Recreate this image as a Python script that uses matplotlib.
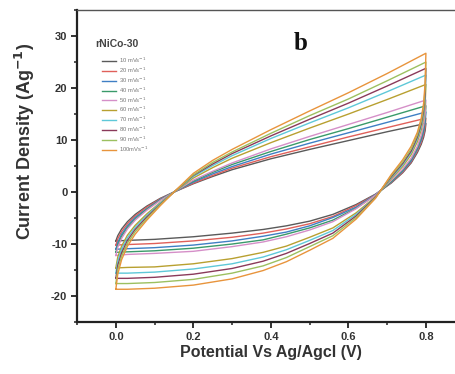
import matplotlib
matplotlib.use("Agg")
import matplotlib.pyplot as plt
from matplotlib.ticker import MultipleLocator

# Scan rates (mV/s) and their trace colours
scan_rates = [10, 20, 30, 40, 50, 60, 70, 80, 90, 100]
colors = ["#5a5a5a", "#e0605a", "#3f7fc4", "#3a9a6a", "#d58fc8",
          "#b8a030", "#5ec8d8", "#8a3a5a", "#9cc060", "#e8943c"]
labels = ["10 mVs$^{-1}$", "20 mVs$^{-1}$", "30 mVs$^{-1}$", "40 mVs$^{-1}$",
          "50 mVs$^{-1}$", "60 mVs$^{-1}$", "70 mVs$^{-1}$", "80 mVs$^{-1}$",
          "90 mVs$^{-1}$", "100mVs$^{-1}$"]

# Potential grid (V) for the anodic (forward) and cathodic (reverse) sweeps
e_fwd = [0.0, 0.005, 0.015, 0.03, 0.05, 0.08, 0.115, 0.15,
         0.2, 0.25, 0.3, 0.4, 0.5, 0.6, 0.7, 0.8]
e_rev = [0.8, 0.798, 0.794, 0.788, 0.778, 0.762, 0.74, 0.71, 0.67,
         0.62, 0.56, 0.5, 0.44, 0.38, 0.3, 0.2, 0.1, 0.03, 0.0]

# Current density (A/g), forward sweep
i_fwd_10 = [-9.4, -8.4, -7.1, -5.7, -4.3, -2.7, -1.2, 0.0, 1.6, 3.0, 4.3, 6.4, 8.2, 9.9, 11.6, 13.2]
i_fwd_20 = [-10.2, -9.0, -7.6, -6.1, -4.6, -2.9, -1.3, 0.0, 1.7, 3.2, 4.6, 6.8, 8.7, 10.6, 12.4, 14.2]
i_fwd_30 = [-11.0, -9.7, -8.1, -6.5, -4.9, -3.2, -1.4, 0.0, 1.9, 3.5, 4.9, 7.3, 9.4, 11.4, 13.4, 15.4]
i_fwd_40 = [-11.6, -10.2, -8.5, -6.8, -5.2, -3.3, -1.5, 0.0, 2.1, 3.8, 5.3, 7.8, 10.1, 12.2, 14.4, 16.6]
i_fwd_50 = [-12.2, -10.6, -8.9, -7.1, -5.4, -3.5, -1.6, 0.0, 2.3, 4.0, 5.6, 8.3, 10.7, 13.0, 15.3, 17.7]
i_fwd_60 = [-14.6, -12.5, -10.4, -8.3, -6.4, -4.2, -2.0, 0.0, 2.7, 4.7, 6.5, 9.5, 12.3, 15.0, 17.8, 20.7]
i_fwd_70 = [-15.6, -13.3, -11.0, -8.8, -6.8, -4.5, -2.1, 0.0, 3.0, 5.1, 7.0, 10.3, 13.3, 16.2, 19.3, 22.5]
i_fwd_80 = [-16.6, -14.1, -11.7, -9.3, -7.2, -4.8, -2.3, 0.0, 3.2, 5.4, 7.4, 10.8, 14.0, 17.1, 20.4, 23.8]
i_fwd_90 = [-17.6, -14.9, -12.3, -9.8, -7.6, -5.1, -2.4, 0.0, 3.3, 5.7, 7.7, 11.3, 14.7, 17.9, 21.4, 25.0]
i_fwd_100 = [-18.7, -15.8, -13.0, -10.4, -8.1, -5.4, -2.6, 0.0, 3.6, 6.1, 8.2, 12.0, 15.6, 19.1, 22.8, 26.7]

# Current density (A/g), reverse sweep
i_rev_10 = [13.2, 11.8, 10.5, 9.2, 7.6, 5.6, 3.7, 1.7, -0.4, -2.4, -4.3, -5.6, -6.5, -7.2, -7.9, -8.6, -9.1, -9.3, -9.4]
i_rev_20 = [14.2, 12.5, 11.0, 9.6, 7.9, 5.8, 3.8, 1.8, -0.5, -2.6, -4.7, -6.1, -7.1, -7.9, -8.7, -9.4, -9.9, -10.1, -10.2]
i_rev_30 = [15.4, 13.3, 11.6, 10.0, 8.2, 6.0, 4.0, 1.9, -0.5, -2.9, -4.9, -6.5, -7.7, -8.5, -9.4, -10.2, -10.7, -10.9, -11.0]
i_rev_40 = [16.6, 14.1, 12.2, 10.5, 8.5, 6.3, 4.2, 2.0, -0.6, -3.1, -5.4, -6.9, -8.1, -9.2, -10.0, -10.8, -11.3, -11.5, -11.6]
i_rev_50 = [17.7, 14.9, 12.8, 10.9, 8.8, 6.5, 4.4, 2.2, -0.6, -3.2, -5.7, -7.3, -8.6, -9.6, -10.5, -11.4, -11.8, -12.0, -12.2]
i_rev_60 = [20.7, 16.8, 14.2, 12.0, 9.7, 7.2, 4.9, 2.5, -0.9, -4.0, -6.9, -8.7, -10.4, -11.6, -12.8, -13.8, -14.4, -14.5, -14.6]
i_rev_70 = [22.5, 17.9, 14.9, 12.6, 10.2, 7.6, 5.2, 2.7, -1.0, -4.3, -7.4, -9.3, -11.1, -12.5, -13.8, -14.8, -15.4, -15.6, -15.6]
i_rev_80 = [23.8, 18.9, 15.6, 13.1, 10.6, 7.9, 5.5, 2.9, -1.0, -4.6, -7.9, -9.9, -11.8, -13.3, -14.7, -15.8, -16.4, -16.6, -16.6]
i_rev_90 = [25.0, 19.9, 16.3, 13.6, 11.0, 8.3, 5.8, 3.1, -1.1, -4.9, -8.4, -10.5, -12.6, -14.2, -15.6, -16.8, -17.4, -17.6, -17.6]
i_rev_100 = [26.7, 21.0, 17.0, 14.2, 11.5, 8.8, 6.2, 3.3, -1.2, -5.2, -8.9, -11.2, -13.4, -15.1, -16.7, -17.9, -18.5, -18.7, -18.7]

forward = [i_fwd_10, i_fwd_20, i_fwd_30, i_fwd_40, i_fwd_50,
           i_fwd_60, i_fwd_70, i_fwd_80, i_fwd_90, i_fwd_100]
reverse = [i_rev_10, i_rev_20, i_rev_30, i_rev_40, i_rev_50,
           i_rev_60, i_rev_70, i_rev_80, i_rev_90, i_rev_100]

plt.rcParams["font.family"] = ["Liberation Sans", "DejaVu Sans"]
plt.rcParams["axes.unicode_minus"] = False

fig = plt.figure(figsize=(4.56, 3.74), dpi=100)
ax = fig.add_axes([0.169, 0.139, 0.850, 0.834])

for fwd, rev, c, lab in zip(forward, reverse, colors, labels):
    ax.plot(e_fwd + e_rev, fwd + rev, color=c, lw=1.0, label=lab)

ax.set_xlim(-0.1, 0.9)
ax.set_ylim(-25, 35)
ax.xaxis.set_major_locator(MultipleLocator(0.2))
ax.xaxis.set_minor_locator(MultipleLocator(0.1))
ax.yaxis.set_major_locator(MultipleLocator(10))
ax.yaxis.set_minor_locator(MultipleLocator(5))
ax.set_xticks([0.0, 0.2, 0.4, 0.6, 0.8])
ax.set_xticklabels(["0.0", "0.2", "0.4", "0.6", "0.8"])
ax.set_yticks([-20, -10, 0, 10, 20, 30])

ax.tick_params(which="major", direction="out", length=4, width=1.3,
               labelsize=8, colors="#222222", pad=3)
ax.tick_params(which="minor", direction="out", length=2.5, width=1.1, colors="#222222")
for lbl in ax.get_xticklabels() + ax.get_yticklabels():
    lbl.set_fontweight("bold")
    lbl.set_color("#333333")

for side in ("left", "bottom"):
    ax.spines[side].set_linewidth(1.6)
    ax.spines[side].set_color("#222222")
ax.spines["top"].set_linewidth(1.0)
ax.spines["top"].set_color("#555555")
ax.spines["right"].set_visible(False)

ax.set_xlabel("Potential Vs Ag/Agcl (V)", fontsize=11.5, fontweight="bold",
              color="#333333", labelpad=2)
fig.text(25 / 456, 1 - 141 / 374, "Current Density (Ag$^{\\mathbf{-1}}$)",
         rotation=90, ha="center", va="center", fontsize=13,
         fontweight="bold", color="#333333")

ax.text(0.003, 28.5, "rNiCo-30", fontsize=7.5, fontweight="bold",
        color="#444444", ha="center", va="center")
ax.text(0.476, 28.5, "b", fontsize=18, fontweight="bold", color="#111111",
        family="Liberation Serif", ha="center", va="center")

leg = ax.legend(loc="upper left", bbox_to_anchor=(0.058, 0.862), frameon=False,
                fontsize=4.2, handlelength=2.4, handletextpad=0.4,
                labelspacing=0.09, borderpad=0.0)
for t in leg.get_texts():
    t.set_color("#777777")

fig.savefig("out.png", dpi=100)
